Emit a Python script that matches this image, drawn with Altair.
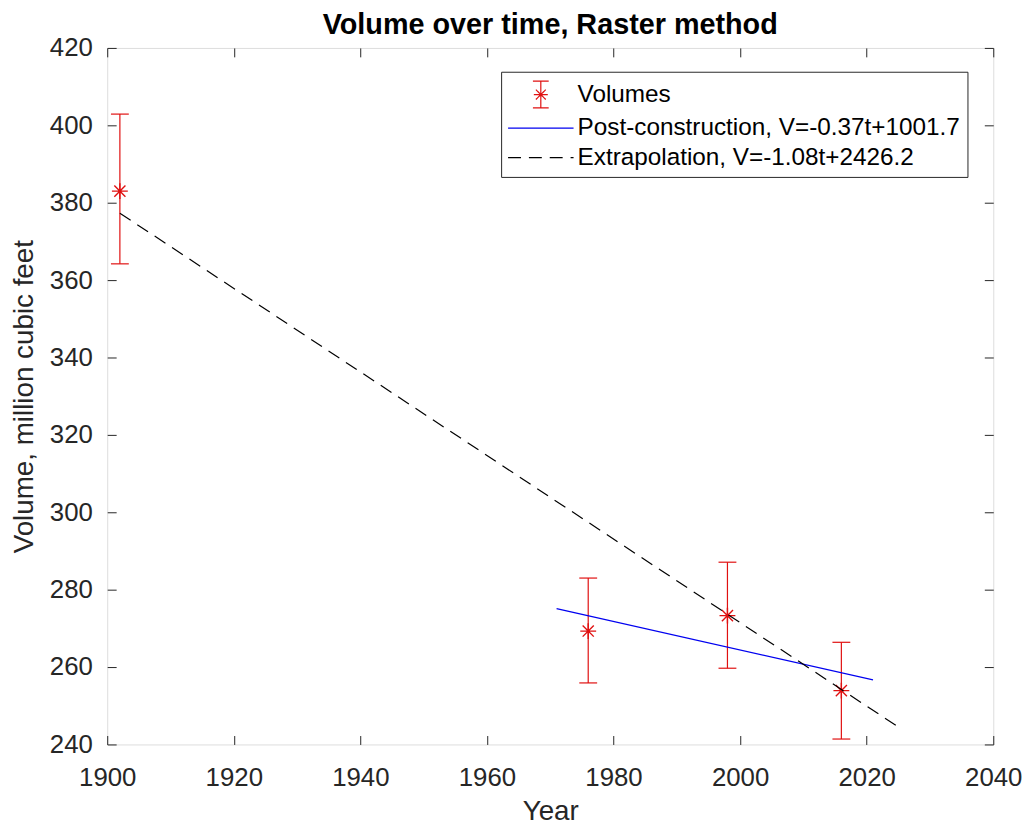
import altair as alt
import pandas as pd

# ---- data ----
years = [1902, 1976, 1998, 2016]
volumes = [383.0, 269.3, 273.3, 253.9]
err_low = [364.2, 255.9, 259.7, 241.4]
err_high = [402.9, 283.0, 287.1, 266.4]

fit_years = [1971, 2021]
fit_values = [275.1, 256.7]

extrap_years = [1902, 2025]
extrap_values = [377.3, 244.5]

series_names = ["Volumes",
                "Post-construction, V=-0.37t+1001.7",
                "Extrapolation, V=-1.08t+2426.2"]

x_ticks = [1900, 1920, 1940, 1960, 1980, 2000, 2020, 2040]
y_ticks = [240, 260, 280, 300, 320, 340, 360, 380, 400, 420]

# ---- styles ----
W, H = 893, 702
FONT = "Liberation Sans"
AX = "#262626"
RED = "#e01010"
BLUE = "#0000f0"
BLACK = "#000000"
STAR = "M-1,0L1,0M0,-1L0,1M-0.7,-0.7L0.7,0.7M-0.7,0.7L0.7,-0.7"
CAP = "M-1,0L1,0"
# legend symbols (unit = 15 px)
LEG_LINE = "M-2.2,0L2.2,0"
ICON = ("M0,-0.9L0,0.9M-0.53,-0.9L0.53,-0.9M-0.53,0.9L0.53,0.9"
        "M-0.47,0L0.47,0M0,-0.47L0,0.47M-0.33,-0.33L0.33,0.33M-0.33,0.33L0.33,-0.33")
series_colors = [RED, BLUE, BLACK]
series_shapes = [ICON, LEG_LINE, LEG_LINE]
series_dashes = [[1, 0], [1, 0], [13, 8]]

err_df = pd.DataFrame({"year": years, "volume": volumes, "low": err_low, "high": err_high})
fit_df = pd.DataFrame({"year": fit_years, "volume": fit_values})
ext_df = pd.DataFrame({"year": extrap_years, "volume": extrap_values})
leg_df = pd.DataFrame({"series": series_names})

xs = alt.Scale(domain=[1900, 2040], nice=False, zero=False)
ys = alt.Scale(domain=[240, 420], nice=False, zero=False)

common = dict(domain=False, grid=False)

x_label_axis = alt.Axis(orient="bottom", values=x_ticks, format="d", labelFont=FONT,
                        labelFontSize=26, labelColor=AX, ticks=False, tickSize=0,
                        labelPadding=41, labelBaseline="alphabetic", labelFlush=False,
                        labelOverlap=False, title="Year", titleFont=FONT, titleFontSize=28,
                        titleFontWeight="normal", titleColor=AX, titleY=76,
                        titleBaseline="alphabetic", **common)
y_label_axis = alt.Axis(orient="left", values=y_ticks, format="d", labelFont=FONT,
                        labelFontSize=26, labelColor=AX, ticks=False, tickSize=0,
                        labelPadding=15, labelFlush=False, labelOverlap=False,
                        title="Volume, million cubic feet", titleFont=FONT, titleFontSize=28,
                        titleFontWeight="normal", titleColor=AX, titleX=-75, titleY=H / 2,
                        titleAngle=270, titleBaseline="alphabetic", titleAlign="center",
                        **common)


def tick_axis(orient, vals, off):
    return alt.Axis(orient=orient, values=vals, labels=False, ticks=True, tickSize=9,
                    tickColor=AX, tickWidth=1, offset=off, title=None, **common)


rules = alt.Chart(err_df).mark_rule(color=RED, strokeWidth=1.2).encode(
    x=alt.X("year:Q", scale=xs, axis=x_label_axis),
    y=alt.Y("low:Q", scale=ys, axis=y_label_axis),
    y2="high:Q",
)

caps = alt.Chart(err_df).transform_fold(["low", "high"], as_=["end", "val"]).mark_point(
    shape=CAP, size=324, filled=False, color=RED, strokeWidth=1.2, opacity=1
).encode(
    x=alt.X("year:Q", scale=xs, axis=tick_axis("top", x_ticks, -H)),
    y=alt.Y("val:Q", scale=ys, axis=tick_axis("right", y_ticks, -W)),
)

stars = alt.Chart(err_df).mark_point(
    shape=STAR, size=256, filled=False, color=RED, strokeWidth=1.4, opacity=1
).encode(
    x=alt.X("year:Q", scale=xs, axis=tick_axis("bottom", x_ticks, -H)),
    y=alt.Y("volume:Q", scale=ys, axis=tick_axis("left", y_ticks, -W)),
)

fit = alt.Chart(fit_df).mark_line(color=BLUE, strokeWidth=1.2).encode(
    x=alt.X("year:Q", scale=xs, axis=None),
    y=alt.Y("volume:Q", scale=ys, axis=None),
)

ext = alt.Chart(ext_df).mark_line(color=BLACK, strokeWidth=1.2, strokeDash=[13, 8]).encode(
    x=alt.X("year:Q", scale=xs, axis=None),
    y=alt.Y("volume:Q", scale=ys, axis=None),
)

leg = alt.Legend(orient="none", legendX=397, legendY=24, title=None, direction="vertical",
                 fillColor="white", strokeColor=AX, padding=7, labelFont=FONT,
                 labelFontSize=24.5, labelColor="black", labelLimit=800, symbolSize=900,
                 symbolStrokeWidth=1.2, symbolOffset=17, labelOffset=21, rowPadding=1.8,
                 symbolFillColor="transparent")

legend_layer = alt.Chart(leg_df).transform_filter("false").mark_point(
    filled=False, strokeWidth=1.2, opacity=1
).encode(
    color=alt.Color("series:N", scale=alt.Scale(domain=series_names, range=series_colors),
                    legend=leg),
    shape=alt.Shape("series:N", scale=alt.Scale(domain=series_names, range=series_shapes),
                    legend=leg),
    strokeDash=alt.StrokeDash("series:N",
                              scale=alt.Scale(domain=series_names, range=series_dashes),
                              legend=leg),
)

chart = alt.layer(rules, caps, stars, fit, ext, legend_layer).resolve_scale(
    x="independent", y="independent"
).properties(
    width=W, height=H,
    title=alt.TitleParams("Volume over time, Raster method", font=FONT, fontSize=29,
                          fontWeight="bold", color="black", anchor="middle",
                          offset=0, dy=5),
    autosize=alt.AutoSizeParams(type="none"),
    padding={"left": 100, "top": 37, "right": 33, "bottom": 86},
).configure_view(stroke=AX, strokeWidth=1).configure(background="white")

chart.save("out.html", embed_options={"renderer": "svg", "actions": False})
